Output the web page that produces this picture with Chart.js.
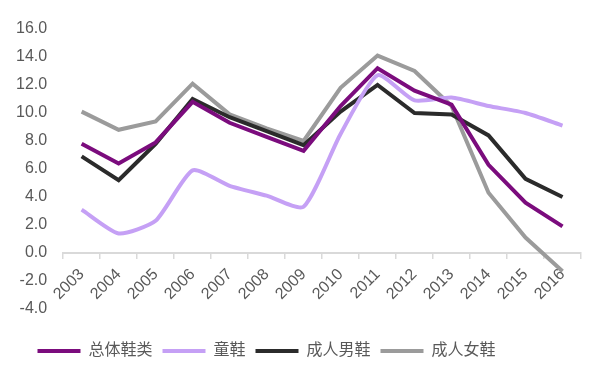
<!DOCTYPE html>
<html>
<head>
<meta charset="utf-8">
<script src="https://cdn.jsdelivr.net/npm/chart.js@4/dist/chart.umd.min.js"></script>
<style>
  html, body { margin: 0; padding: 0; background: #fff; }
  #wrap { width: 600px; height: 369px; }
</style>
</head>
<body>
<div id="wrap"><canvas id="shoes"></canvas></div>
<script>
// years on the x axis
var years = ['2003', '2004', '2005', '2006', '2007', '2008', '2009', '2010', '2011', '2012', '2013', '2014', '2015', '2016'];
// series names (legend)
var seriesNames = ['总体鞋类', '童鞋', '成人男鞋', '成人女鞋'];
// values
var totalShoes = [7.8, 6.4, 7.9, 10.8, 9.3, 8.3, 7.3, 10.5, 13.2, 11.6, 10.6, 6.3, 3.6, 1.9];
var kidsShoes  = [3.1, 1.4, 2.3, 5.9, 4.8, 4.1, 3.3, 8.5, 12.7, 10.9, 11.1, 10.5, 10.0, 9.1];
var menShoes   = [6.9, 5.2, 7.8, 11.0, 9.7, 8.7, 7.7, 10.1, 12.0, 10.0, 9.9, 8.4, 5.3, 4.0];
var womenShoes = [10.1, 8.8, 9.4, 12.1, 9.9, 8.9, 8.0, 11.8, 14.1, 13.0, 10.5, 4.3, 1.1, -1.3];

var colors = ['#7b0c7d', '#c5a0f5', '#2b2b2b', '#9b9b9b'];
var font = "'Liberation Sans', Arial, 'Noto Sans CJK SC', sans-serif";

function makeSet(i, values, tension) {
    return {
        label: seriesNames[i],
        data: values,
        borderColor: colors[i],
        backgroundColor: colors[i],
        borderWidth: 4,
        pointRadius: 0,
        tension: tension
    };
}

// legend in the picture sits a bit left of centre
var legendShift = {
    id: 'legendShift',
    afterUpdate: function (c) {
        c.legend.left -= 24;
        c.legend.right -= 24;
    }
};

var chart = new Chart(document.getElementById('shoes'), {
    type: 'line',
    data: {
        labels: years,
        datasets: [
            makeSet(0, totalShoes, 0),
            makeSet(1, kidsShoes, 0.2),
            makeSet(2, menShoes, 0),
            makeSet(3, womenShoes, 0)
        ]
    },
    plugins: [legendShift],
    options: {
        responsive: true,
        maintainAspectRatio: false,
        animation: false,
        layout: { padding: { left: 0, right: 19, top: 29, bottom: 0 } },
        plugins: {
            tooltip: { enabled: false },
            legend: {
                position: 'bottom',
                labels: {
                    usePointStyle: true,
                    pointStyle: 'line',
                    pointStyleWidth: 43,
                    boxHeight: 16,
                    padding: 10,
                    color: '#595959',
                    font: { family: font, size: 16 }
                }
            }
        },
        scales: {
            x: {
                position: { y: 0 },
                offset: true,
                grid: { display: true, offset: true, drawOnChartArea: false, drawTicks: true, tickLength: 5, color: '#d9d9d9', lineWidth: 1.5 },
                border: { display: true, color: '#d9d9d9', width: 2 },
                ticks: { minRotation: 45, maxRotation: 45, padding: 7, color: '#595959', font: { family: font, size: 16 } }
            },
            // empty bottom axis, only keeps room between the plot and the legend
            gap: {
                type: 'category',
                position: 'bottom',
                afterFit: function (s) { s.height = 24; },
                grid: { display: false },
                border: { display: false },
                ticks: { display: false }
            },
            y: {
                min: -4,
                max: 16,
                grid: { display: false, drawTicks: false },
                border: { display: false },
                ticks: {
                    stepSize: 2,
                    padding: 16,
                    color: '#595959',
                    font: { family: font, size: 16 },
                    callback: function (v) { return v.toFixed(1); }
                }
            }
        }
    }
});
</script>
</body>
</html>
